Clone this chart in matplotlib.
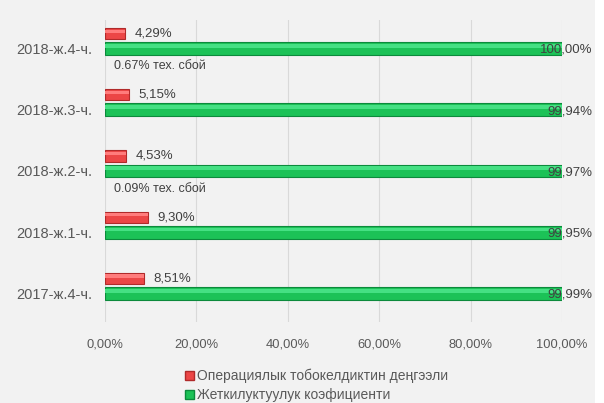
import numpy as np
import matplotlib
matplotlib.use("Agg")
import matplotlib.pyplot as plt
from matplotlib.patches import Patch, Rectangle
from matplotlib.ticker import FuncFormatter

plt.rcParams['font.family'] = ['Liberation Sans', 'DejaVu Sans']

# Данные (снизу вверх)
categories = ["2017-ж.4-ч.", "2018-ж.1-ч.", "2018-ж.2-ч.", "2018-ж.3-ч.", "2018-ж.4-ч."]
risk_level = [8.51, 9.30, 4.53, 5.15, 4.29]
availability = [99.99, 99.95, 99.97, 99.94, 100.00]
tech_fail = ["", "", "0.09% тех. сбой", "", "0.67% тех. сбой"]
x_ticks = [0, 20, 40, 60, 80, 100]

series_names = ["Операциялык тобокелдиктин деңгээли", "Жеткилуктуулук коэфициенти"]

bg = "#f2f2f2"
txt = "#595959"

fig = plt.figure(figsize=(6.04, 4.03), dpi=100, facecolor=bg)
fig.patches.append(Rectangle((595 / 604, 0), 9 / 604, 1, transform=fig.transFigure,
                             facecolor="white", edgecolor="none", zorder=0))
ax = fig.add_axes([105 / 604, 1 - 322 / 403, 457 / 604, 302 / 403])
ax.set_facecolor(bg)

y = np.arange(len(categories))
pitch = 0.245

# зеленые бары
ax.barh(y, availability, height=0.21, color="#1cc257", edgecolor="#0c8a3c",
        linewidth=0.8, zorder=3)
ax.barh(y + 0.045, availability, height=0.06, color="#45e083", edgecolor="none", zorder=4)
# красные бары
ax.barh(y + pitch, risk_level, height=0.18, color="#ec4646", edgecolor="#b02a2a",
        linewidth=0.8, zorder=3)
ax.barh(y + pitch + 0.04, risk_level, height=0.05, color="#ff7c7c", edgecolor="none", zorder=4)

for yi, v in zip(y, risk_level):
    ax.annotate(f"{v:.2f}%".replace(".", ","), (v, yi + pitch), xytext=(7, 0),
                textcoords="offset points", ha="left", va="center",
                fontsize=9.5, color="#404040", zorder=5)

for yi, v in zip(y, availability):
    ax.annotate(f"{v:.2f}%".replace(".", ","), (v, yi), xytext=(22, -1),
                textcoords="offset points", ha="right", va="center",
                fontsize=9.5, color="#404040", zorder=5)

for yi, t in zip(y, tech_fail):
    if t:
        ax.annotate(t, (0, yi - 0.29), xytext=(6.5, 0), textcoords="offset points",
                    ha="left", va="center", fontsize=9, color="#404040", zorder=5)

ax.set_xlim(0, 100)
ax.set_ylim(-0.466, 4.466)
ax.set_xticks(x_ticks)
ax.xaxis.set_major_formatter(FuncFormatter(lambda v, p: f"{v:.2f}%".replace(".", ",")))
ax.set_yticks(y)
ax.set_yticklabels(categories)
ax.tick_params(axis="both", length=0, colors=txt)
ax.tick_params(axis="x", pad=12, labelsize=9.3)
ax.tick_params(axis="y", pad=9, labelsize=10.5)
ax.grid(axis="x", color="#d9d9d9", linewidth=0.8, zorder=0)
ax.set_axisbelow(True)
for s in ax.spines.values():
    s.set_visible(False)

handles = [Patch(facecolor="#ec4646", edgecolor="#b02a2a", label=series_names[0]),
           Patch(facecolor="#1cc257", edgecolor="#0c8a3c", label=series_names[1])]
fig.legend(handles=handles, loc="upper left", bbox_to_anchor=(178 / 604, 1 - 362 / 403),
           frameon=False, fontsize=10, handlelength=0.65, handleheight=0.65,
           handletextpad=0.25, labelspacing=0.35, borderpad=0, labelcolor=txt)

fig.savefig("out.png", dpi=100, facecolor=bg)
